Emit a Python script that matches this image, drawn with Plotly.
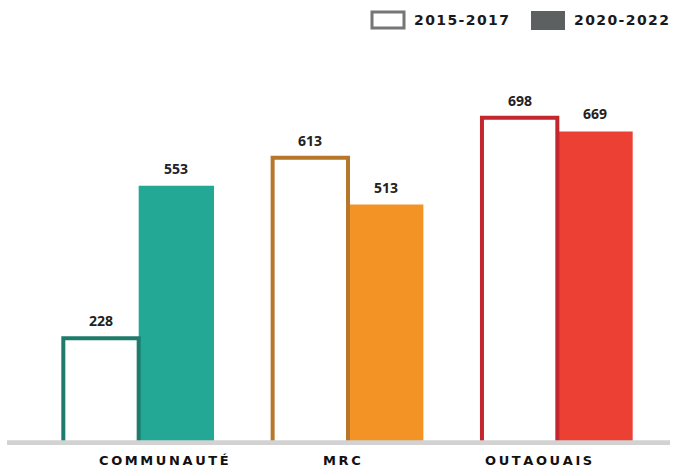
import plotly.graph_objects as go

# Data
categories = ["COMMUNAUTÉ", "MRC", "OUTAOUAIS"]
series_names = ["2015-2017", "2020-2022"]
values_2015_2017 = [228, 613, 698]
values_2020_2022 = [553, 513, 669]

outline_colors = ["#1f7b6c", "#b7772b", "#c1272d"]
fill_colors = ["#23a896", "#f39325", "#ec4035"]
# horizontal nudge of each category caption (in category units)
caption_offsets = [0.12, -0.03, -0.09]

W, H = 674, 469
M_L, M_R, M_T, M_B = 34, 12, 70, 24
PW, PH = W - M_L - M_R, H - M_T - M_B
BAR_W = 0.36

def spaced(s, sep="\u2009"):
    return sep.join(list(s))

x_idx = list(range(len(categories)))

fig = go.Figure()

# filled bars (2020-2022), to the right of each category centre
fig.add_trace(go.Bar(
    x=x_idx, y=values_2020_2022, name=series_names[1],
    offset=0, width=BAR_W,
    marker=dict(color=fill_colors, line=dict(width=0)),
    hoverinfo="skip",
))
# outlined bars (2015-2017), to the left, drawn on top
fig.add_trace(go.Bar(
    x=x_idx, y=values_2015_2017, name=series_names[0],
    offset=-BAR_W, width=BAR_W,
    marker=dict(color="white", line=dict(color=outline_colors, width=4)),
    hoverinfo="skip",
))

def px_x(p):
    return (p - M_L) / PW

def px_y(p):
    return (H - M_B - p) / PH

annotations = []
label_font = dict(family="Open Sans", size=14, color="#222222", weight="bold")
for i in x_idx:
    annotations.append(dict(x=i - BAR_W / 2, y=values_2015_2017[i], xref="x", yref="y",
                            text=str(values_2015_2017[i]), showarrow=False,
                            yanchor="bottom", yshift=6, font=label_font))
    annotations.append(dict(x=i + BAR_W / 2, y=values_2020_2022[i], xref="x", yref="y",
                            text=str(values_2020_2022[i]), showarrow=False,
                            yanchor="bottom", yshift=6, font=label_font))

# category captions under the baseline
cat_font = dict(family="DejaVu Sans", size=13, color="#111111", weight="bold")
for i, c in enumerate(categories):
    annotations.append(dict(x=i + caption_offsets[i], y=px_y(460), xref="x", yref="paper",
                            text=spaced(c), showarrow=False,
                            xanchor="center", yanchor="middle", font=cat_font))

# custom legend
legend_font = dict(family="DejaVu Sans", size=14, color="#1a1a1a", weight="bold")
shapes = [
    dict(type="rect", xref="paper", yref="paper",
         x0=px_x(372), x1=px_x(404), y0=px_y(28), y1=px_y(12),
         line=dict(color="#767676", width=3), fillcolor="white"),
    dict(type="rect", xref="paper", yref="paper",
         x0=px_x(531), x1=px_x(565), y0=px_y(30), y1=px_y(11),
         line=dict(width=0), fillcolor="#5d6060"),
    # baseline rule
    dict(type="line", xref="paper", yref="y",
         x0=px_x(7), x1=px_x(670), y0=5, y1=5,
         line=dict(color="#d2d2d2", width=5), layer="above"),
]
annotations.append(dict(x=px_x(412), y=px_y(20), xref="paper", yref="paper",
                        text=spaced(series_names[0], "\u200a"), showarrow=False,
                        xanchor="left", yanchor="middle", font=legend_font))
annotations.append(dict(x=px_x(572), y=px_y(20), xref="paper", yref="paper",
                        text=spaced(series_names[1], "\u200a"), showarrow=False,
                        xanchor="left", yanchor="middle", font=legend_font))

fig.update_layout(
    width=W, height=H,
    margin=dict(l=M_L, r=M_R, t=M_T, b=M_B, autoexpand=False),
    paper_bgcolor="white", plot_bgcolor="white",
    barmode="overlay",
    showlegend=False,
    shapes=shapes,
    annotations=annotations,
    xaxis=dict(
        range=[-0.5, len(categories) - 0.5],
        showticklabels=False, automargin=False,
        showgrid=False, zeroline=False, showline=False, ticks="",
    ),
    yaxis=dict(range=[0, 800], visible=False, showgrid=False, zeroline=False,
               automargin=False),
)

fig.write_html("out.html")
